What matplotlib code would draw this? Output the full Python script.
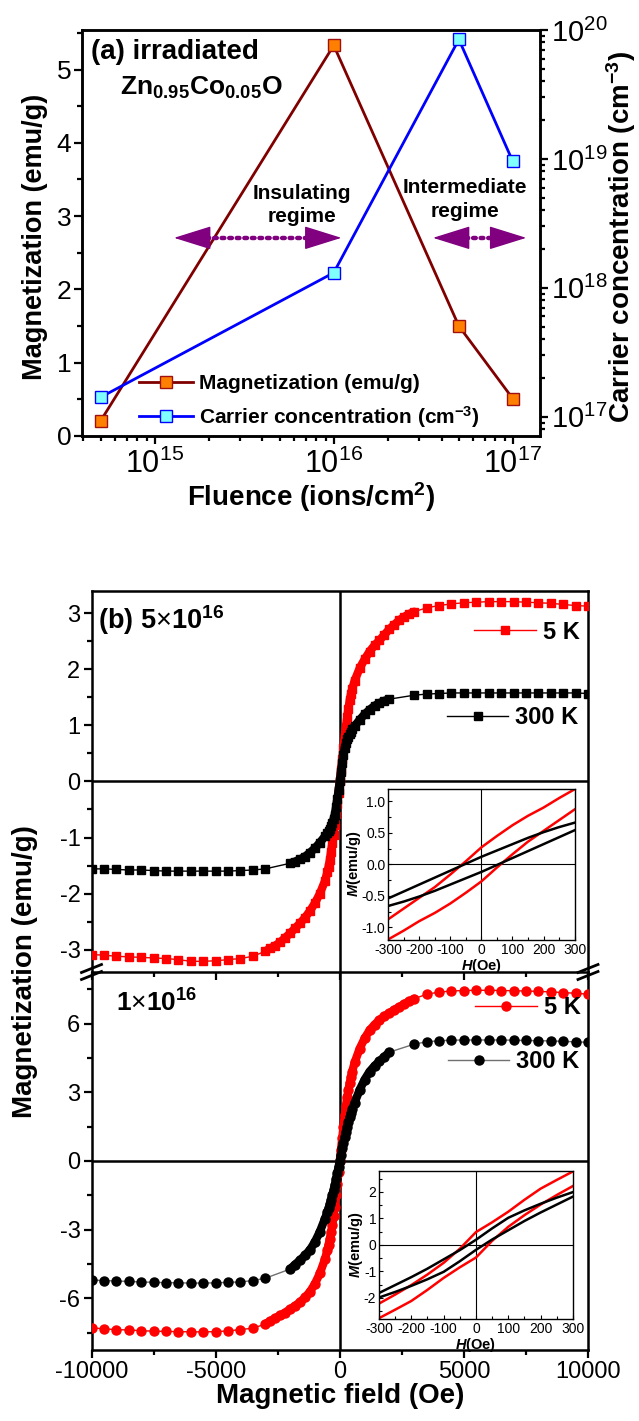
import numpy as np
import matplotlib.pyplot as plt
from matplotlib.lines import Line2D
from matplotlib.patches import FancyArrowPatch
from matplotlib.ticker import MultipleLocator, LogLocator, NullFormatter

plt.rcParams['font.family'] = ['Liberation Sans', 'DejaVu Sans']
plt.rcParams['mathtext.fontset'] = 'custom'
plt.rcParams['mathtext.rm'] = 'Liberation Sans'
plt.rcParams['mathtext.it'] = 'Liberation Sans:bold:italic'
plt.rcParams['mathtext.bf'] = 'Liberation Sans:bold'
plt.rcParams['axes.unicode_minus'] = False

# ---------------------------------------------------------------------
# (a) magnetization and carriers vs fluence
# ---------------------------------------------------------------------
fluence = [5e14, 1e16, 5e16, 1e17]
mag_fluence = [0.21, 5.33, 1.50, 0.51]
carriers = [1.42e17, 1.31e18, 8.45e19, 9.57e18]

# ---------------------------------------------------------------------
# (b) M-H loops, field grids (Oe)
# ---------------------------------------------------------------------
field_5k = [-10000, -9500, -9000, -8500, -8000, -7500, -7000, -6500, -6000, -5500, -5000, -4500, -4000, -3500,
            -3000, -2800, -2600, -2400, -2200, -2000, -1800, -1600, -1400, -1200, -1000, -800, -600,
            -500, -450, -400, -350, -300, -250, -200, -150, -100, -50, 0, 50, 100, 150, 200, 250, 300, 350, 400, 450, 500,
            600, 800, 1000, 1200, 1400, 1600, 1800, 2000, 2200, 2400, 2600, 2800, 3000,
            3500, 4000, 4500, 5000, 5500, 6000, 6500, 7000, 7500, 8000, 8500, 9000, 9500, 10000]
field_300k = [-10000, -9500, -9000, -8500, -8000, -7500, -7000, -6500, -6000, -5500, -5000, -4500, -4000, -3500, -3000,
              -2000, -1800, -1600, -1400, -1200, -1000, -800, -600,
              -500, -450, -400, -350, -300, -250, -200, -150, -100, -50, 0, 50, 100, 150, 200, 250, 300, 350, 400, 450, 500,
              600, 800, 1000, 1200, 1400, 1600, 1800, 2000,
              3000, 3500, 4000, 4500, 5000, 5500, 6000, 6500, 7000, 7500, 8000, 8500, 9000, 9500, 10000]

# 5x10^16
m_5e16_5k = [-3.09, -3.10, -3.12, -3.13, -3.14, -3.15, -3.16, -3.18, -3.21, -3.21, -3.20, -3.18, -3.16, -3.12,
             -3.03, -2.98, -2.93, -2.87, -2.79, -2.71, -2.62, -2.53, -2.43, -2.31, -2.17, -2.00, -1.78,
             -1.62, -1.52, -1.40, -1.25, -1.10, -0.95, -0.77, -0.58, -0.40, -0.20, 0.00, 0.20, 0.40, 0.60, 0.80, 0.98, 1.15, 1.30, 1.45, 1.56, 1.65,
             1.80, 2.02, 2.18, 2.32, 2.43, 2.52, 2.62, 2.72, 2.80, 2.88, 2.94, 2.99, 3.03,
             3.10, 3.14, 3.17, 3.19, 3.20, 3.21, 3.21, 3.21, 3.20, 3.19, 3.18, 3.16, 3.14, 3.13]
m_5e16_300k = [-1.56, -1.56, -1.57, -1.58, -1.58, -1.59, -1.60, -1.60, -1.60, -1.60, -1.60, -1.60, -1.59, -1.58, -1.56,
               -1.46, -1.43, -1.39, -1.34, -1.27, -1.19, -1.09, -0.98,
               -0.92, -0.88, -0.84, -0.79, -0.74, -0.67, -0.59, -0.46, -0.32, -0.16, 0.00, 0.17, 0.33, 0.47, 0.60, 0.68, 0.75, 0.80, 0.85, 0.89, 0.93,
               0.99, 1.10, 1.20, 1.28, 1.35, 1.40, 1.44, 1.47,
               1.54, 1.56, 1.57, 1.58, 1.58, 1.58, 1.58, 1.58, 1.58, 1.58, 1.58, 1.58, 1.58, 1.58, 1.57]

# 1x10^16
m_1e16_5k = [-7.28, -7.33, -7.36, -7.38, -7.41, -7.43, -7.44, -7.45, -7.46, -7.46, -7.45, -7.42, -7.36, -7.30,
             -7.12, -6.99, -6.87, -6.74, -6.62, -6.47, -6.33, -6.16, -5.96, -5.71, -5.36, -4.90, -4.30,
             -3.90, -3.65, -3.40, -3.10, -2.80, -2.40, -2.00, -1.50, -1.00, -0.50, 0.00, 0.50, 1.00, 1.50, 2.00, 2.40, 2.80, 3.10, 3.40, 3.65, 3.90,
             4.30, 4.90, 5.35, 5.70, 5.95, 6.15, 6.32, 6.45, 6.60, 6.72, 6.85, 6.97, 7.08,
             7.28, 7.37, 7.42, 7.44, 7.45, 7.45, 7.44, 7.43, 7.42, 7.40, 7.38, 7.35, 7.32, 7.28]
m_1e16_300k = [-5.20, -5.22, -5.24, -5.26, -5.28, -5.30, -5.31, -5.32, -5.33, -5.33, -5.32, -5.30, -5.28, -5.22, -5.12,
               -4.72, -4.52, -4.33, -4.12, -3.88, -3.53, -3.08, -2.53,
               -2.24, -2.07, -1.89, -1.69, -1.49, -1.27, -1.04, -0.79, -0.54, -0.27, 0.00, 0.28, 0.55, 0.80, 1.05, 1.28, 1.50, 1.70, 1.90, 2.08, 2.25,
               2.55, 3.10, 3.55, 3.90, 4.15, 4.35, 4.55, 4.75,
               5.10, 5.20, 5.25, 5.27, 5.28, 5.28, 5.28, 5.28, 5.27, 5.26, 5.25, 5.24, 5.22, 5.20, 5.18]

# low-field loops (insets)
h_down = [300, 250, 200, 150, 100, 50, 0, -50, -100, -150, -200, -250, -300]
h_up = [-300, -250, -200, -150, -100, -50, 0, 50, 100, 150, 200, 250, 300]

loop_5e16_5k_down = [1.19, 1.05, 0.90, 0.77, 0.62, 0.45, 0.27, 0.05, -0.16, -0.36, -0.53, -0.70, -0.87]
loop_5e16_5k_up = [-1.19, -1.05, -0.90, -0.77, -0.62, -0.45, -0.27, -0.05, 0.16, 0.36, 0.53, 0.70, 0.87]
loop_5e16_300k_down = [0.66, 0.59, 0.51, 0.42, 0.32, 0.22, 0.12, 0.01, -0.10, -0.21, -0.32, -0.43, -0.54]
loop_5e16_300k_up = [-0.66, -0.59, -0.51, -0.42, -0.32, -0.22, -0.12, -0.01, 0.10, 0.21, 0.32, 0.43, 0.54]

loop_1e16_5k_down = [2.77, 2.45, 2.12, 1.70, 1.25, 0.85, 0.48, -0.15, -0.68, -1.12, -1.52, -1.88, -2.22]
loop_1e16_5k_up = [-2.77, -2.45, -2.12, -1.70, -1.25, -0.85, -0.48, 0.15, 0.68, 1.12, 1.52, 1.88, 2.22]
loop_1e16_300k_down = [1.99, 1.78, 1.55, 1.30, 1.02, 0.62, 0.19, -0.20, -0.55, -0.90, -1.22, -1.52, -1.82]
loop_1e16_300k_up = [-1.99, -1.78, -1.55, -1.30, -1.02, -0.62, -0.19, 0.20, 0.55, 0.90, 1.22, 1.52, 1.82]

PURPLE = "#800080"
SPINE_W = 1.8

fig = plt.figure(figsize=(6.39, 14.21), dpi=100)


def spines(ax, lw=SPINE_W):
    for s in ax.spines.values():
        s.set_linewidth(lw)


# ---------------------------------------------------------------------
# panel (a)
# ---------------------------------------------------------------------
ax_a = fig.add_axes([0.1291, 0.6932, 0.7160, 0.2857])
ax_a.set_xscale('log')
ax_a.set_xlim(3.95e14, 1.42e17)
ax_a.set_ylim(0, 5.54)
ln_mag, = ax_a.plot(fluence, mag_fluence, '-s', color='#800000', lw=2.0, ms=9,
                    mfc='#FF8000', mec='#A01010', mew=1.0, label='Magnetization (emu/g)')

ax_r = ax_a.twinx()
ax_r.set_yscale('log')
ax_r.set_ylim(7.1e16, 1e20)
ln_car, = ax_r.plot(fluence, carriers, '-s', color='#0000FF', lw=2.0, ms=9,
                    mfc='#80FFFF', mec='#0000FF', mew=1.0,
                    label=r'Carrier concentration (cm$^{\mathbf{-3}}$)')

ax_a.yaxis.set_major_locator(MultipleLocator(1))
ax_a.yaxis.set_minor_locator(MultipleLocator(0.5))
ax_a.xaxis.set_major_locator(LogLocator(base=10))
ax_a.xaxis.set_minor_locator(LogLocator(base=10, subs=np.arange(2, 10)))
ax_a.xaxis.set_minor_formatter(NullFormatter())
ax_r.yaxis.set_minor_locator(LogLocator(base=10, subs=np.arange(2, 10)))
ax_r.yaxis.set_minor_formatter(NullFormatter())

ax_a.tick_params(which='both', direction='out', top=False, width=1.6)
ax_a.tick_params(which='major', length=6)
ax_a.tick_params(which='minor', length=3.5)
ax_a.tick_params(axis='y', labelsize=19, pad=2)
ax_a.tick_params(axis='x', labelsize=22, pad=3)
ax_r.tick_params(which='both', direction='out', width=1.6, labelsize=21, pad=2)
ax_r.tick_params(which='major', length=6)
ax_r.tick_params(which='minor', length=3.5)
spines(ax_a)
spines(ax_r)

ax_a.set_xlabel(r'Fluence (ions/cm$^{\mathbf{2}}$)', fontsize=20, fontweight='bold', labelpad=0)
fig.text(0.055, 0.833, 'Magnetization (emu/g)', rotation=90, fontsize=19.5,
         fontweight='bold', ha='center', va='center')
fig.text(0.972, 0.833, r'Carrier concentration (cm$^{\mathbf{-3}}$)', rotation=90,
         fontsize=20, fontweight='bold', ha='center', va='center')

ax_a.text(0.0175, 0.946, '(a) irradiated', transform=ax_a.transAxes,
          fontsize=20, fontweight='bold', va='center')
ax_a.text(0.082, 0.857, r'Zn$_{\mathbf{0.95}}$Co$_{\mathbf{0.05}}$O', transform=ax_a.transAxes,
          fontsize=19, fontweight='bold', va='center')
ax_a.text(0.479, 0.569, 'Insulating\nregime', transform=ax_a.transAxes, fontsize=15,
          fontweight='bold', ha='center', va='center', linespacing=1.25)
ax_a.text(0.835, 0.583, 'Intermediate\nregime', transform=ax_a.transAxes, fontsize=15,
          fontweight='bold', ha='center', va='center', linespacing=1.3)


def double_arrow(ax, x0, x1, y):
    ax.plot([x0 + 0.06, x1 - 0.06], [y, y], transform=ax.transAxes, color=PURPLE,
            lw=3.2, ls=(0, (0.6, 1.1)), dash_capstyle='round', zorder=6)
    for tip, base in ((x0, x0 + 0.075), (x1, x1 - 0.075)):
        ar = FancyArrowPatch((base, y), (tip, y), transform=ax.transAxes,
                             arrowstyle='-|>,head_length=2.4,head_width=0.75',
                             mutation_scale=10, color=PURPLE, lw=1, zorder=6)
        ax.add_patch(ar)


double_arrow(ax_r, 0.194, 0.572, 0.488)
double_arrow(ax_r, 0.760, 0.976, 0.488)

ax_r.legend(handles=[ln_mag, ln_car], loc='lower left', bbox_to_anchor=(0.11, 0.0),
            frameon=False, prop=dict(weight='bold', size=15), handlelength=2.6,
            handletextpad=0.3, labelspacing=0.5, borderaxespad=0.2, borderpad=0.1)


# ---------------------------------------------------------------------
# panel (b)
# ---------------------------------------------------------------------
ax_l = fig.add_axes([0.1432, 0.0500, 0.7770, 0.2660])
ax_u = fig.add_axes([0.1432, 0.3160, 0.7770, 0.2681])
ax_l.set_zorder(1)
ax_u.set_zorder(2)


def loop_curve(ax, h, m, color, marker, ms, dense, line_color):
    h = np.asarray(h, float)
    m = np.asarray(m, float)
    ln, = ax.plot(h, m, color=line_color, lw=1.0, marker=marker, ms=ms,
                  mfc=color, mec=color, zorder=3)
    sel = np.abs(h) <= dense
    ax.plot(h[sel], m[sel], color=color, lw=6, solid_capstyle='round', zorder=3)
    return ln


l5_u = loop_curve(ax_u, field_5k, m_5e16_5k, '#FF0000', 's', 5.5, 3000, '#FF0000')
l3_u = loop_curve(ax_u, field_300k, m_5e16_300k, 'black', 's', 5.5, 2000, 'black')
l5_l = loop_curve(ax_l, field_5k, m_1e16_5k, '#FF0000', 'o', 6.5, 3000, '#FF0000')
l3_l = loop_curve(ax_l, field_300k, m_1e16_300k, 'black', 'o', 6.5, 2000, '#707070')

ax_u.set_ylim(-3.4, 3.4)
ax_l.set_ylim(-8.25, 8.25)
for ax in (ax_u, ax_l):
    ax.set_xlim(-10000, 10000)
    ax.axhline(0, color='black', lw=1.8, zorder=2)
    ax.axvline(0, color='black', lw=1.8, zorder=2)
    ax.xaxis.set_major_locator(MultipleLocator(5000))
    ax.xaxis.set_minor_locator(MultipleLocator(2500))
    ax.tick_params(which='both', direction='out', top=False, right=False, width=1.6, labelsize=17)
    ax.tick_params(which='major', length=6, pad=2)
    ax.tick_params(which='minor', length=3.5)
    spines(ax)

ax_u.yaxis.set_major_locator(MultipleLocator(1))
ax_u.yaxis.set_minor_locator(MultipleLocator(0.5))
ax_u.tick_params(axis='x', labelbottom=False)
ax_l.yaxis.set_major_locator(MultipleLocator(3))
ax_l.yaxis.set_minor_locator(MultipleLocator(1.5))
ax_l.spines['top'].set_visible(False)

ax_l.set_xlabel('Magnetic field (Oe)', fontsize=20, fontweight='bold', labelpad=0)
fig.text(0.039, 0.316, 'Magnetization (emu/g)', rotation=90, fontsize=20,
         fontweight='bold', ha='center', va='center')

ax_u.text(0.013, 0.924, r'(b) 5$\times$10$^{\mathbf{16}}$', transform=ax_u.transAxes,
          fontsize=19.5, fontweight='bold', va='center')
ax_l.text(0.049, 0.918, r'1$\times$10$^{\mathbf{16}}$', transform=ax_l.transAxes,
          fontsize=19, fontweight='bold', va='center')

leg_kw = dict(loc='center right', frameon=False, prop=dict(weight='bold', size=17),
              handlelength=2.6, handletextpad=0.3, borderaxespad=0, borderpad=0, numpoints=1)
lg = ax_u.legend(handles=[l5_u], labels=['5 K'], bbox_to_anchor=(0.983, 0.892), **leg_kw)
ax_u.add_artist(lg)
ax_u.legend(handles=[l3_u], labels=['300 K'], bbox_to_anchor=(0.981, 0.667), **leg_kw)
lg = ax_l.legend(handles=[l5_l], labels=['5 K'], bbox_to_anchor=(0.985, 0.905), **leg_kw)
ax_l.add_artist(lg)
ax_l.legend(handles=[l3_l], labels=['300 K'], bbox_to_anchor=(0.983, 0.762), **leg_kw)

# axis break marks
W, H = 639.0, 1421.0
for xs in (91.5, 588.0):
    for dy in (-3.5, 3.5):
        fig.add_artist(Line2D([(xs - 10) / W, (xs + 10) / W],
                              [1 - (972 + dy + 4) / H, 1 - (972 + dy - 4) / H],
                              color='black', lw=2.0, zorder=10))


# ---------------------------------------------------------------------
# insets
# ---------------------------------------------------------------------
def inset(rect, ylim, ymaj, yfmt, loops):
    ax = fig.add_axes(rect)
    ax.set_zorder(5)
    ax.set_xlim(-300, 300)
    ax.set_ylim(*ylim)
    ax.axhline(0, color='black', lw=0.8)
    ax.axvline(0, color='black', lw=0.8)
    for hd, md, hu, mu, c in loops:
        ax.plot(hd, md, color=c, lw=1.8)
        ax.plot(hu, mu, color=c, lw=1.8)
    ax.xaxis.set_major_locator(MultipleLocator(100))
    ax.xaxis.set_minor_locator(MultipleLocator(50))
    ax.yaxis.set_major_locator(MultipleLocator(ymaj))
    ax.yaxis.set_minor_locator(MultipleLocator(ymaj / 2))
    ax.yaxis.set_major_formatter(yfmt)
    ax.tick_params(which='both', direction='in', width=0.8, labelsize=10, pad=2)
    ax.tick_params(which='major', length=3)
    ax.tick_params(which='minor', length=2)
    spines(ax, 1.0)
    ax.set_xlabel(r'$H$(Oe)', fontsize=10.5, fontweight='bold', labelpad=0)
    ax.set_ylabel(r'$M$(emu/g)', fontsize=10.5, fontweight='bold', labelpad=-1)
    return ax


inset([0.6077, 0.3385, 0.2915, 0.1065], (-1.2, 1.2), 0.5, '{x:.1f}',
      [(h_down, loop_5e16_5k_down, h_up, loop_5e16_5k_up, '#FF0000'),
       (h_down, loop_5e16_300k_down, h_up, loop_5e16_300k_up, 'black')])
inset([0.5931, 0.0718, 0.3036, 0.1044], (-2.8, 2.8), 1, '{x:.0f}',
      [(h_down, loop_1e16_5k_down, h_up, loop_1e16_5k_up, '#FF0000'),
       (h_down, loop_1e16_300k_down, h_up, loop_1e16_300k_up, 'black')])

fig.savefig('out.png', dpi=100)
